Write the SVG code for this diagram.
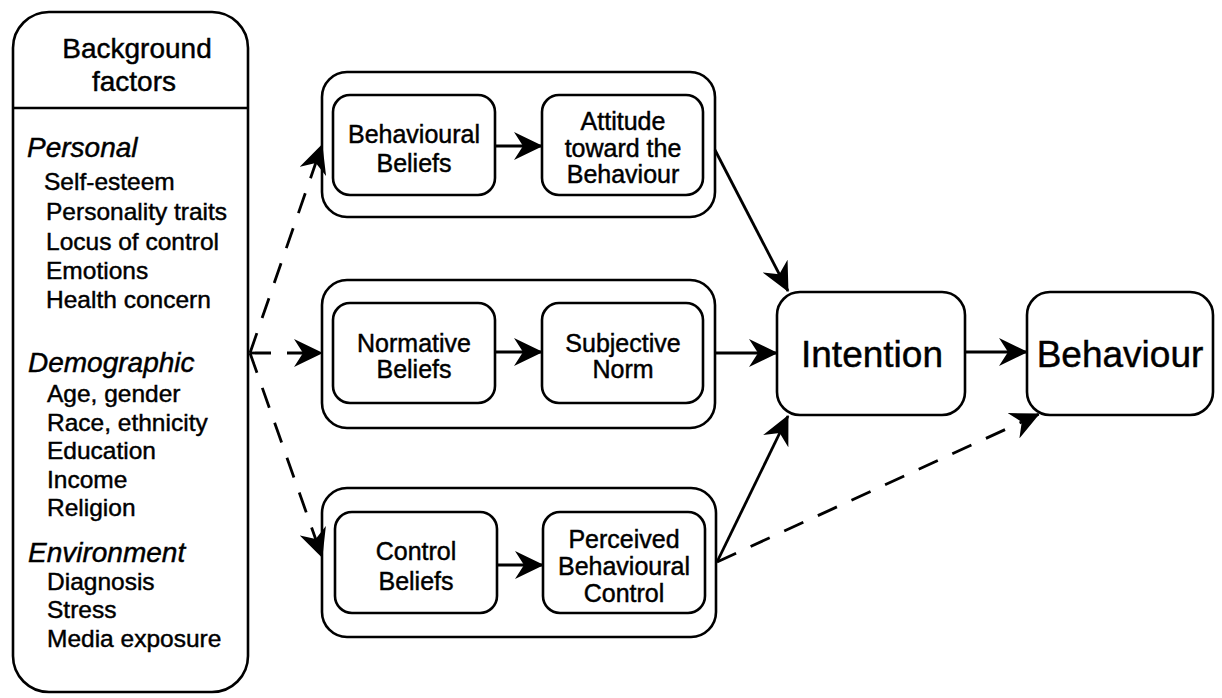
<svg xmlns="http://www.w3.org/2000/svg" width="1222" height="698" viewBox="0 0 1222 698">
<style>
.box{fill:#fff;stroke:#000;stroke-width:2.6}
.t{font-family:"Liberation Sans",Arial,Helvetica,sans-serif;fill:#000;stroke:#000;stroke-width:0.45}
.bt{font-size:25px;text-anchor:middle}
.big{font-size:37px;text-anchor:middle}
.hd{font-size:28px;font-style:italic}
.it{font-size:24.5px}
.ln{fill:none;stroke:#000;stroke-width:2.8}
.ds{stroke-dasharray:21 16}
</style>
<defs>
<marker id="ah" viewBox="0 0 29 28" refX="28" refY="14" markerWidth="29" markerHeight="28" markerUnits="userSpaceOnUse" orient="auto">
<path d="M0,0 L29,14 L0,28 L9,14 Z" fill="#000"/>
</marker>
</defs>
<rect width="1222" height="698" fill="#fff"/>

<g id="background-factors">
<rect class="box" x="13" y="12" width="235" height="680" rx="36" ry="36"/>
<line x1="13" y1="108" x2="248" y2="108" stroke="#000" stroke-width="2.6"/>
<text class="t" font-size="28" text-anchor="middle" x="137" y="58">Background</text>
<text class="t" font-size="28" text-anchor="middle" x="134" y="91">factors</text>
<text class="t hd" x="27" y="157">Personal</text>
<text class="t it" x="44" y="190">Self-esteem</text>
<text class="t it" x="46" y="220">Personality traits</text>
<text class="t it" x="46" y="250">Locus of control</text>
<text class="t it" x="46" y="279">Emotions</text>
<text class="t it" x="46" y="308">Health concern</text>
<text class="t hd" x="28" y="372">Demographic</text>
<text class="t it" x="47" y="402">Age, gender</text>
<text class="t it" x="47" y="431">Race, ethnicity</text>
<text class="t it" x="47" y="459">Education</text>
<text class="t it" x="47" y="488">Income</text>
<text class="t it" x="47" y="516">Religion</text>
<text class="t hd" x="28" y="562">Environment</text>
<text class="t it" x="47" y="590">Diagnosis</text>
<text class="t it" x="47" y="618">Stress</text>
<text class="t it" x="47" y="647">Media exposure</text>
</g>

<g id="attitude-group">
<rect class="box" x="322" y="72" width="393" height="145" rx="25" ry="25"/>
</g>
<g id="behavioural-beliefs">
<rect class="box" x="333" y="95" width="162" height="100" rx="17" ry="17"/>
<text class="t bt" x="414" y="143">Behavioural</text>
<text class="t bt" x="414" y="172">Beliefs</text>
</g>
<g id="attitude">
<rect class="box" x="542" y="95" width="161" height="100" rx="17" ry="17"/>
<text class="t bt" x="623" y="130">Attitude</text>
<text class="t bt" x="623" y="157">toward the</text>
<text class="t bt" x="623" y="183">Behaviour</text>
</g>

<g id="norm-group">
<rect class="box" x="322" y="280" width="393" height="148" rx="25" ry="25"/>
</g>
<g id="normative-beliefs">
<rect class="box" x="333" y="303" width="162" height="100" rx="17" ry="17"/>
<text class="t bt" x="414" y="352">Normative</text>
<text class="t bt" x="414" y="378">Beliefs</text>
</g>
<g id="subjective-norm">
<rect class="box" x="542" y="303" width="161" height="100" rx="17" ry="17"/>
<text class="t bt" x="623" y="352">Subjective</text>
<text class="t bt" x="623" y="378">Norm</text>
</g>

<g id="control-group">
<rect class="box" x="322" y="488" width="394" height="149" rx="25" ry="25"/>
</g>
<g id="control-beliefs">
<rect class="box" x="335" y="512" width="162" height="101" rx="17" ry="17"/>
<text class="t bt" x="416" y="560">Control</text>
<text class="t bt" x="416" y="590">Beliefs</text>
</g>
<g id="perceived-control">
<rect class="box" x="543" y="512" width="162" height="101" rx="17" ry="17"/>
<text class="t bt" x="624" y="548">Perceived</text>
<text class="t bt" x="624" y="575">Behavioural</text>
<text class="t bt" x="624" y="602">Control</text>
</g>

<g id="intention">
<rect class="box" x="777" y="292" width="188" height="123" rx="23" ry="23"/>
<text class="t big" x="872" y="367">Intention</text>
</g>
<g id="behaviour">
<rect class="box" x="1027" y="292" width="186" height="123" rx="23" ry="23"/>
<text class="t big" x="1120" y="367">Behaviour</text>
</g>

<g id="connectors">
<line class="ln" x1="495" y1="146" x2="542" y2="146" marker-end="url(#ah)"/>
<line class="ln" x1="495" y1="352" x2="542" y2="352" marker-end="url(#ah)"/>
<line class="ln" x1="497" y1="565" x2="543" y2="565" marker-end="url(#ah)"/>
<line class="ln" x1="715" y1="150" x2="788" y2="291" marker-end="url(#ah)"/>
<line class="ln" x1="715" y1="353" x2="777" y2="353" marker-end="url(#ah)"/>
<line class="ln" x1="717" y1="562" x2="788" y2="416" marker-end="url(#ah)"/>
<line class="ln" x1="965" y1="352" x2="1027" y2="352" marker-end="url(#ah)"/>
<line class="ln ds" x1="717" y1="562" x2="1039" y2="414" marker-end="url(#ah)"/>
<line class="ln ds" x1="250" y1="353" x2="322" y2="145" marker-end="url(#ah)"/>
<line class="ln ds" x1="250" y1="353" x2="322" y2="353" marker-end="url(#ah)"/>
<line class="ln ds" x1="250" y1="353" x2="322" y2="557" marker-end="url(#ah)"/>
</g>
</svg>
